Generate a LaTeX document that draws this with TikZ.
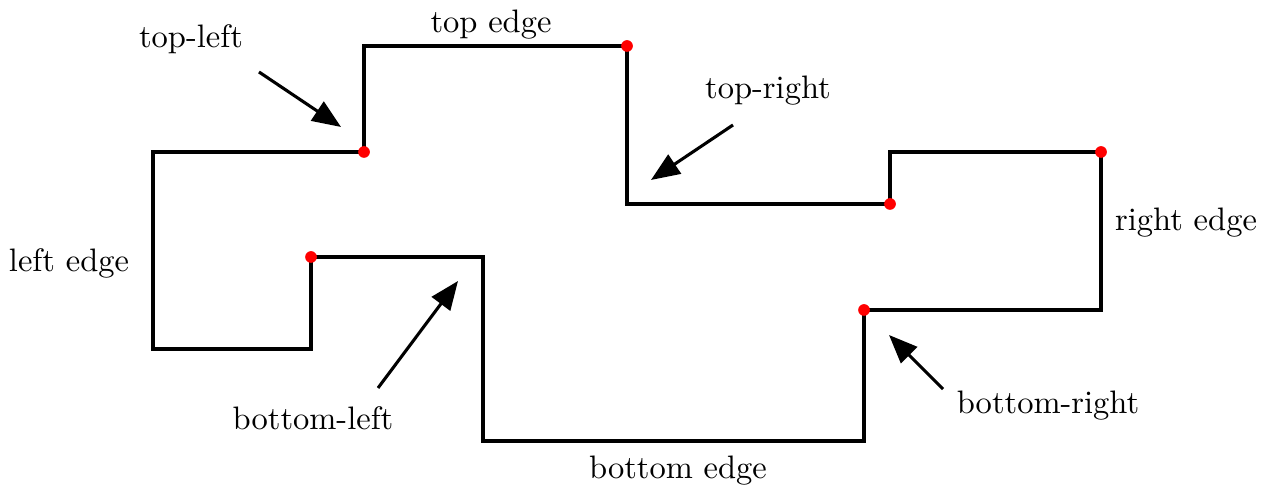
\documentclass[tikz,border=0pt]{standalone}
\usetikzlibrary{arrows.meta}
\tikzset{
  outline/.style={line width=0.95pt, line join=miter},
  corner/.style={circle, fill=red, inner sep=0pt, minimum size=3.6pt},
  pointer/.style={line width=0.95pt, -{Triangle[length=8.8pt,width=7pt]}},
  lbl/.style={inner sep=0pt}
}
\begin{document}
\begin{tikzpicture}[x=0.30769pt, y=-0.30769pt]
\useasboundingbox (0,0) rectangle (1261,485);
% outline
\draw[outline] (153,152) -- (364,152) -- (364,46) -- (627,46) -- (627,204) -- (890,204) -- (890,152) -- (1101,152) -- (1101,310) -- (864,310) -- (864,441) -- (483,441) -- (483,257) -- (311,257) -- (311,349) -- (153,349) -- cycle;
% corner dots
\node[corner] (c1) at (364,152) {};
\node[corner] (c2) at (627,46) {};
\node[corner] (c3) at (890,204) {};
\node[corner] (c4) at (1101,152) {};
\node[corner] (c5) at (864,310) {};
\node[corner] (c6) at (311,257) {};
% labels
\node[lbl] (ltl) at (191,39) {top-left};
\node[lbl] (lte) at (491,25) {top edge};
\node[lbl] (ltr) at (768,91) {top-right};
\node[lbl] (lle) at (69,263) {left edge};
\node[lbl] (lre) at (1186,223) {right edge};
\node[lbl] (lbl1) at (313,418) {bottom-left};
\node[lbl] (lbr) at (1048,406) {bottom-right};
\node[lbl] (lbe) at (678,471) {bottom edge};
% pointer ends
\coordinate (a1s) at (259,72);  \coordinate (a1e) at (341,127);
\coordinate (a2s) at (733,125); \coordinate (a2e) at (651,180);
\coordinate (a3s) at (378,388); \coordinate (a3e) at (458,281);
\coordinate (a4s) at (943,389); \coordinate (a4e) at (889,335);
\draw[pointer] (a1s) -- (a1e);
\draw[pointer] (a2s) -- (a2e);
\draw[pointer] (a3s) -- (a3e);
\draw[pointer] (a4s) -- (a4e);
\end{tikzpicture}
\end{document}
